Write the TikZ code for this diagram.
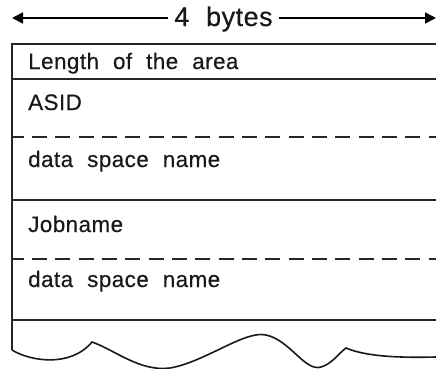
\documentclass[tikz,border=0pt]{standalone}
\usepackage{fontspec}
\setmainfont{Liberation Sans}[WordSpace=2.1, LetterSpace=2, FakeBold=0.4]
\usetikzlibrary{arrows.meta}
\tikzset{
  rule/.style={line width=1.6bp, draw=black!85},
  dashrule/.style={rule, dash pattern=on 15bp off 8.33bp, dash phase=3.3bp},
  arr/.style={line width=1.6bp, -{Triangle[length=11bp,width=11bp]}},
  field/.style={anchor=base west, inner sep=0pt, font=\fontsize{22.5}{26}\selectfont, text=black!90},
  hdrstyle/.style={inner xsep=6bp, inner ysep=0pt, font=\fontsize{27}{30}\selectfont, text=black!90},
  wave/.style={line width=1.6bp, draw=black!90, line join=miter}
}
\begin{document}
\begin{tikzpicture}[x=1bp,y=-1bp]
\useasboundingbox (0,0) rectangle (436,368);
% header
\node[hdrstyle, anchor=base] (hdr) at (223.5,26) {4 bytes};
\coordinate (la) at (12,18);
\coordinate (ra) at (436,18);
\draw[arr] (hdr.west |- la) -- (la);
\draw[arr] (hdr.east |- ra) -- (ra);
% box frame
\coordinate (tl) at (12,44);
\coordinate (tr) at (436,44);
\coordinate (bl) at (12,350);
\draw[rule] (tr) -- (tl) -- (bl);
% separators
\coordinate (s1l) at (12,79);  \coordinate (s1r) at (436,79);
\coordinate (d1l) at (12,137); \coordinate (d1r) at (436,137);
\coordinate (s2l) at (12,200); \coordinate (s2r) at (436,200);
\coordinate (d2l) at (12,259); \coordinate (d2r) at (436,259);
\coordinate (s3l) at (12,320); \coordinate (s3r) at (436,320);
\draw[rule] (s1l) -- (s1r);
\draw[dashrule] (d1l) -- (d1r);
\draw[rule] (s2l) -- (s2r);
\draw[dashrule] (d2l) -- (d2r);
\draw[rule] (s3l) -- (s3r);
% fields
\node[field] (f1) at (28,69) {Length of the area};
\node[field] (f2) at (28,110) {ASID};
\node[field] (f3) at (28,167) {data space name};
\node[field] (f4) at (28,232) {Jobname};
\node[field] (f5) at (28,287) {data space name};
% torn bottom
\draw[wave] (bl) .. controls (30,361) and (70,368) .. (92,342)
  .. controls (115,350) and (140,372) .. (170,368)
  .. controls (205,362) and (245,330) .. (266,335)
  .. controls (290,340) and (305,372) .. (321,367)
  .. controls (332,364) and (340,352) .. (346,348)
  .. controls (365,356) and (395,358) .. (436,357);
\end{tikzpicture}
\end{document}
